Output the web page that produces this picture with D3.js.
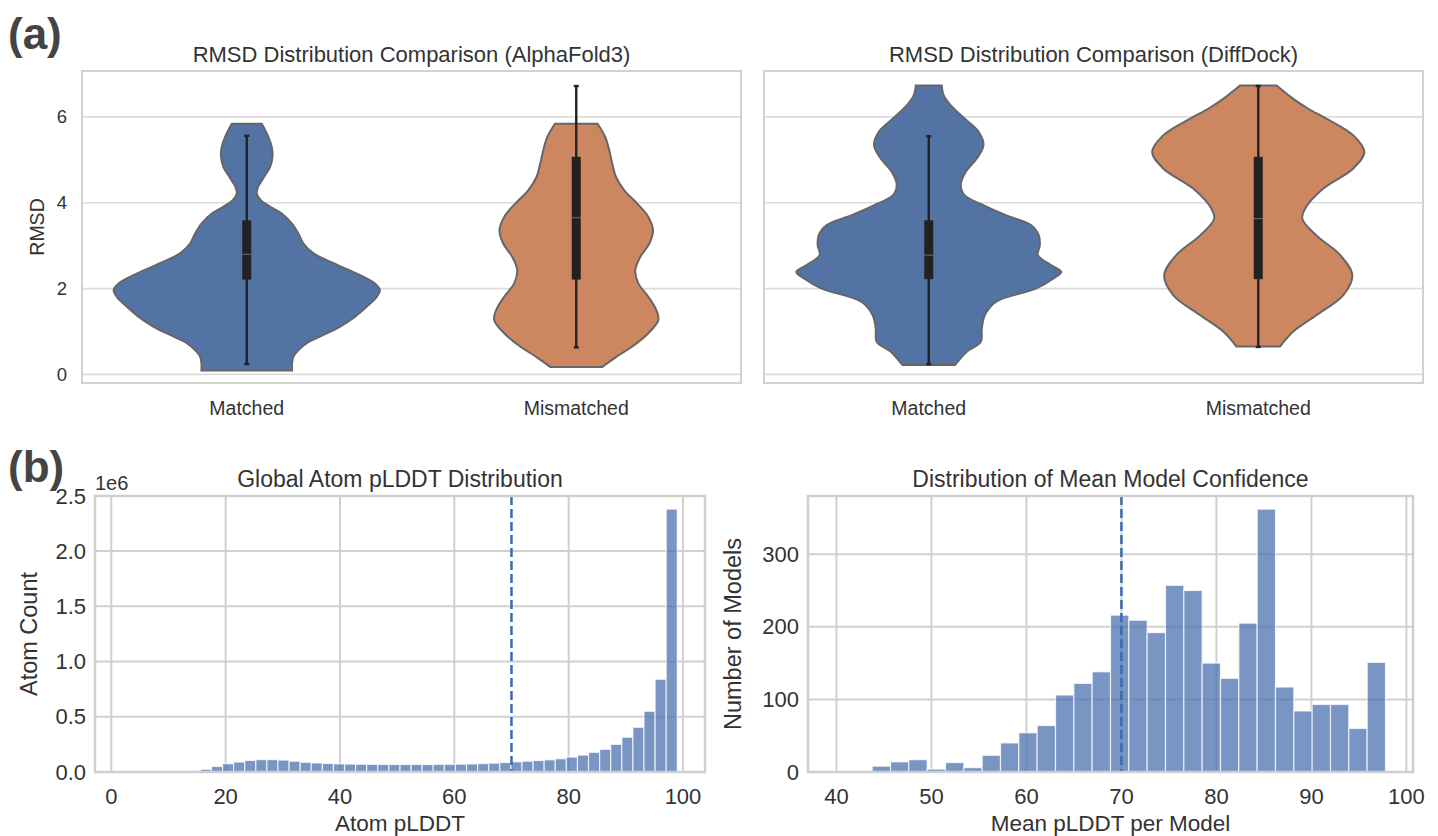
<!DOCTYPE html>
<html><head><meta charset="utf-8">
<script src="https://cdn.jsdelivr.net/npm/d3@7"></script>
<style>
body{margin:0;background:#fff;}
svg{display:block;font-family:"Liberation Sans",Arial,Helvetica,sans-serif;}
</style>
</head><body><svg id="c" width="1438" height="836"></svg>
<script>
// ---------------- DATA ----------------
const violinCategories = ["Matched", "Mismatched"];
const violinTitles = ["RMSD Distribution Comparison (AlphaFold3)", "RMSD Distribution Comparison (DiffDock)"];
const rmsdTicks = [0, 2, 4, 6];

// violin outlines: [RMSD, relative density]
const af3MatchedProfile = [
  [5.84,15],[5.53,21.7],[5.30,25],[5.07,25.7],[4.83,23.3],[4.60,17.3],[4.37,11.3],[4.21,10],
  [4.06,14],[3.90,24],[3.75,35],[3.52,45],[3.28,51.7],[3.05,56.7],[2.82,66.7],[2.59,86.7],
  [2.35,110],[2.12,128],[1.97,133],[1.81,130],[1.58,120],[1.34,108],[1.11,93],[0.88,73],
  [0.73,60],[0.57,51.7],[0.42,46.7],[0.26,45.3],[0.09,45.3]
];
const af3MismatchedProfile = [
  [5.84,21.3],[5.53,29],[5.22,33],[4.91,36],[4.60,39.7],[4.29,48],[3.98,61],[3.67,72],
  [3.36,76.7],[3.05,73],[2.74,64],[2.43,59],[2.12,62],[1.81,72],[1.50,80],[1.27,82],
  [0.96,72],[0.65,56],[0.41,40],[0.17,25.7]
];
const ddMatchedProfile = [
  [6.73,13],[6.50,15],[6.27,22],[5.96,36],[5.65,50],[5.34,54.7],[5.03,48],[4.72,37],
  [4.41,32],[4.17,36],[3.94,55],[3.71,77],[3.48,102],[3.24,110],[3.01,111],[2.78,109],
  [2.55,122],[2.39,132.3],[2.24,125],[2.00,107],[1.69,67],[1.38,56],[1.07,53],[0.76,52],
  [0.53,38],[0.22,26.3]
];
const ddMismatchedProfile = [
  [6.73,18.3],[6.42,35],[6.19,50],[5.96,68],[5.57,95],[5.18,106],[4.80,95],[4.33,65],
  [3.87,47],[3.63,44],[3.24,58],[2.78,82],[2.31,94],[1.85,85],[1.38,58],[1.00,35],[0.65,21.7]
];
// inner box: [whisker low, q1, median, q3, whisker high]
const af3MatchedBox = [0.24, 2.21, 2.80, 3.59, 5.56];
const af3MismatchedBox = [0.63, 2.21, 3.65, 5.07, 6.72];
const ddMatchedBox = [0.24, 2.22, 2.78, 3.59, 5.55];
const ddMismatchedBox = [0.64, 2.22, 3.63, 5.07, 6.72];

// histogram of atom pLDDT (50 bins)
const atomBinRange = [2, 99];
const atomCounts = [
  0,0,0,0,500,2500,12000,25000,50000,75000,
  90000,105000,112000,112000,108000,98000,88000,82000,77000,74000,
  72000,70000,69000,68000,68000,68000,68000,68000,69000,70000,
  71000,73000,76000,80000,86000,92000,98000,104000,110000,120000,
  135000,153000,178000,205000,250000,315000,405000,550000,840000,2380000
];
const atomXTicks = [0, 20, 40, 60, 80, 100];
const atomYTicks = [0, 0.5e6, 1.0e6, 1.5e6, 2.0e6, 2.5e6];

// histogram of mean pLDDT per model (30 bins)
const modelBinRange = [39.9, 97.8];
const modelCounts = [
  1,1,8,14,17,4,13,6,23,40,
  54,64,106,122,138,216,209,192,257,250,
  150,129,205,362,117,84,93,93,60,151
];
const modelXTicks = [40, 50, 60, 70, 80, 90, 100];
const modelYTicks = [0, 100, 200, 300];
const thresholdPLDDT = 70;

// ---------------- STYLE ----------------
const txt = "#333333";
const violinColors = ["#5473a5", "#cc8660"];
const barColor = "#4C72B0";

const svg = d3.select("#c");

// panel labels
svg.append("text").attr("x", 8).attr("y", 49).attr("font-size", 44).attr("font-weight", "bold").attr("fill", "#444").text("(a)");
svg.append("text").attr("x", 8).attr("y", 482).attr("font-size", 44).attr("font-weight", "bold").attr("fill", "#444").text("(b)");

// ---------------- VIOLINS ----------------
const topPanels = [
  {left: 82, right: 741, title: violinTitles[0], profiles: [af3MatchedProfile, af3MismatchedProfile], boxes: [af3MatchedBox, af3MismatchedBox], yLabels: true},
  {left: 764, right: 1423, title: violinTitles[1], profiles: [ddMatchedProfile, ddMismatchedProfile], boxes: [ddMatchedBox, ddMismatchedBox], yLabels: false}
];
const vTop = 71, vBottom = 383;
const yR = d3.scaleLinear().domain([-0.2, 7.07]).range([vBottom, vTop]);
const maxDens = d3.max([af3MatchedProfile, af3MismatchedProfile, ddMatchedProfile, ddMismatchedProfile].flat(), d => d[1]);

topPanels.forEach(p => {
  const g = svg.append("g");
  const xC = d3.scalePoint().domain(violinCategories).range([p.left, p.right]).padding(0.5);
  const wS = d3.scaleLinear().domain([0, maxDens]).range([0, xC.step() * 0.4 * 1.01]);
  // grid
  g.selectAll(".gy").data(rmsdTicks).join("line")
    .attr("x1", p.left).attr("x2", p.right).attr("y1", d => yR(d)).attr("y2", d => yR(d))
    .attr("stroke", "#dcdcdc").attr("stroke-width", 1.6);
  // violins
  p.profiles.forEach((prof, i) => {
    const cx = xC(violinCategories[i]);
    const area = d3.area()
      .y(d => yR(d[0]))
      .x0(d => cx - wS(d[1]))
      .x1(d => cx + wS(d[1]))
      .curve(d3.curveCatmullRom.alpha(0.5));
    g.append("path").datum(prof).attr("d", area)
      .attr("fill", violinColors[i]).attr("stroke", "#666").attr("stroke-width", 2);
    const b = p.boxes[i];
    g.append("line").attr("x1", cx).attr("x2", cx).attr("y1", yR(b[0])).attr("y2", yR(b[4]))
      .attr("stroke", "#222").attr("stroke-width", 2.4);
    [b[0], b[4]].forEach(v => g.append("line").attr("x1", cx - 2.5).attr("x2", cx + 2.5)
      .attr("y1", yR(v)).attr("y2", yR(v)).attr("stroke", "#222").attr("stroke-width", 2.4));
    g.append("rect").attr("x", cx - 4.5).attr("width", 9).attr("y", yR(b[3])).attr("height", yR(b[1]) - yR(b[3]))
      .attr("fill", "#222");
    g.append("line").attr("x1", cx - 4.5).attr("x2", cx + 4.5).attr("y1", yR(b[2])).attr("y2", yR(b[2]))
      .attr("stroke", "#fff").attr("stroke-opacity", 0.35).attr("stroke-width", 1);
  });
  // frame
  g.append("rect").attr("x", p.left).attr("y", vTop).attr("width", p.right - p.left).attr("height", vBottom - vTop)
    .attr("fill", "none").attr("stroke", "#d2d2d2").attr("stroke-width", 2);
  // category labels
  g.selectAll(".cl").data(violinCategories).join("text")
    .attr("x", d => xC(d)).attr("y", 415).attr("text-anchor", "middle").attr("font-size", 19.5).attr("fill", txt).text(d => d);
  // title
  g.append("text").attr("x", (p.left + p.right) / 2).attr("y", 62).attr("text-anchor", "middle")
    .attr("font-size", 22).attr("fill", txt).text(p.title);
  if (p.yLabels) {
    g.selectAll(".yl").data(rmsdTicks).join("text")
      .attr("x", 67).attr("y", d => yR(d)).attr("dy", "0.35em").attr("text-anchor", "end")
      .attr("font-size", 18.5).attr("fill", txt).text(d => d);
    g.append("text").attr("transform", `translate(44,${(vTop + vBottom) / 2}) rotate(-90)`)
      .attr("text-anchor", "middle").attr("font-size", 19.5).attr("fill", txt).text("RMSD");
  }
});

// ---------------- HISTOGRAMS ----------------
function histogram(cfg) {
  const g = svg.append("g");
  const n = cfg.counts.length;
  const [b0, b1] = cfg.binRange;
  const bw = (b1 - b0) / n;
  const pad = (b1 - b0) * 0.05;
  const x = d3.scaleLinear().domain([b0 - pad, b1 + pad]).range([cfg.left, cfg.right]);
  const y = d3.scaleLinear().domain([0, d3.max(cfg.counts) * 1.05]).range([cfg.bottom, cfg.top]);
  // grid
  g.selectAll(".gx").data(cfg.xTicks).join("line")
    .attr("x1", d => x(d)).attr("x2", d => x(d)).attr("y1", cfg.top).attr("y2", cfg.bottom)
    .attr("stroke", "#d0d0d0").attr("stroke-width", 2);
  g.selectAll(".gy").data(cfg.yTicks).join("line")
    .attr("x1", cfg.left).attr("x2", cfg.right).attr("y1", d => y(d)).attr("y2", d => y(d))
    .attr("stroke", "#d0d0d0").attr("stroke-width", 2);
  // bars
  g.selectAll(".bar").data(cfg.counts).join("rect")
    .attr("x", (d, i) => x(b0 + i * bw)).attr("width", (d, i) => x(b0 + (i + 1) * bw) - x(b0 + i * bw))
    .attr("y", d => y(d)).attr("height", d => y(0) - y(d))
    .attr("fill", barColor).attr("fill-opacity", 0.75)
    .attr("stroke", "#fff").attr("stroke-opacity", 0.75).attr("stroke-width", 1.2);
  // threshold
  g.append("line").attr("x1", x(thresholdPLDDT)).attr("x2", x(thresholdPLDDT)).attr("y1", cfg.top).attr("y2", cfg.bottom)
    .attr("stroke", "#3d68b3").attr("stroke-width", 2.5).attr("stroke-dasharray", "9,4");
  // frame
  g.append("rect").attr("x", cfg.left).attr("y", cfg.top).attr("width", cfg.right - cfg.left).attr("height", cfg.bottom - cfg.top)
    .attr("fill", "none").attr("stroke", "#cfcfcf").attr("stroke-width", 2.5);
  // tick labels
  g.selectAll(".xt").data(cfg.xTicks).join("text")
    .attr("x", d => x(d)).attr("y", cfg.bottom + 32).attr("text-anchor", "middle")
    .attr("font-size", 22).attr("fill", txt).text(d => d);
  g.selectAll(".yt").data(cfg.yTicks).join("text")
    .attr("x", cfg.left - 9).attr("y", d => y(d)).attr("dy", "0.35em").attr("text-anchor", "end")
    .attr("font-size", 22).attr("fill", txt).text(cfg.yFormat);
  // labels
  g.append("text").attr("x", (cfg.left + cfg.right) / 2).attr("y", cfg.bottom + 59).attr("text-anchor", "middle")
    .attr("font-size", 22.5).attr("fill", txt).text(cfg.xLabel);
  g.append("text").attr("transform", `translate(${cfg.yLabelX},${(cfg.top + cfg.bottom) / 2}) rotate(-90)`)
    .attr("text-anchor", "middle").attr("font-size", 23.5).attr("fill", txt).text(cfg.yLabel);
  g.append("text").attr("x", (cfg.left + cfg.right) / 2).attr("y", cfg.top - 9).attr("text-anchor", "middle")
    .attr("font-size", 23).attr("fill", txt).text(cfg.title);
  if (cfg.offset) {
    g.append("text").attr("x", cfg.left).attr("y", cfg.top - 6).attr("font-size", 20).attr("fill", txt).text(cfg.offset);
  }
}

histogram({
  left: 95, right: 705, top: 496, bottom: 772,
  counts: atomCounts, binRange: atomBinRange, xTicks: atomXTicks, yTicks: atomYTicks,
  yFormat: d => (d / 1e6).toFixed(1), offset: "1e6",
  title: "Global Atom pLDDT Distribution", xLabel: "Atom pLDDT", yLabel: "Atom Count", yLabelX: 37
});
histogram({
  left: 808, right: 1413, top: 496, bottom: 772,
  counts: modelCounts, binRange: modelBinRange, xTicks: modelXTicks, yTicks: modelYTicks,
  yFormat: d => d, offset: null,
  title: "Distribution of Mean Model Confidence", xLabel: "Mean pLDDT per Model", yLabel: "Number of Models", yLabelX: 741
});
</script>
</body></html>
